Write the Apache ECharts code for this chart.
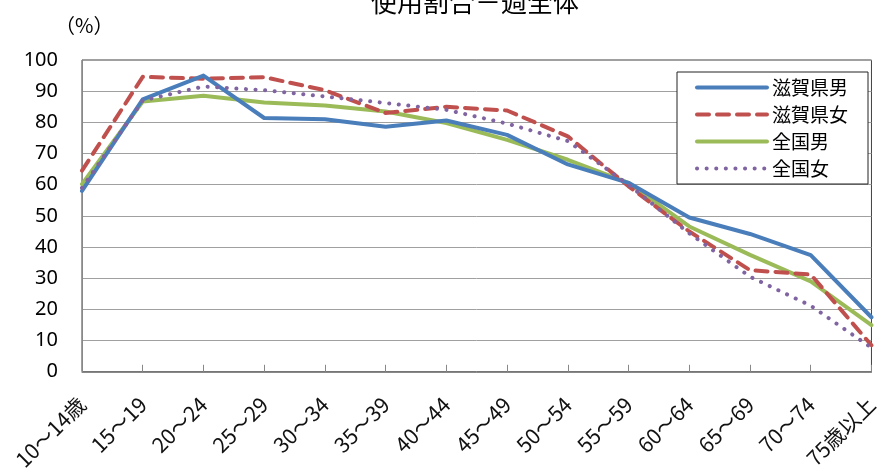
<!DOCTYPE html>
<html>
<head>
<meta charset="utf-8">
<script src="https://cdn.jsdelivr.net/npm/echarts@6/dist/echarts.min.js"></script>
<style>
html,body{margin:0;padding:0;background:#fff;}
#main{width:881px;height:473px;}
</style>
</head>
<body>
<div id="main"></div>
<script>
const categories = ['10～14歳','15～19','20～24','25～29','30～34','35～39','40～44','45～49','50～54','55～59','60～64','65～69','70～74','75歳以上'];
const shigaMale   = [58, 87.4, 95, 81.4, 81, 78.6, 80.6, 76, 66.5, 60.6, 49.5, 44.2, 37.4, 17.5];
const shigaFemale = [64.5, 94.6, 94, 94.5, 90.3, 83, 85, 83.8, 75.5, 59.5, 45, 32.6, 31.2, 8.5];
const nationMale  = [60.2, 86.7, 88.5, 86.4, 85.4, 83.5, 79.8, 74.4, 68, 60.6, 46.6, 37.5, 29, 15];
const nationFemale= [59, 87, 91.5, 90.3, 88.3, 86.2, 84, 79.6, 74, 60, 44.4, 30.5, 21.2, 7.7];
const seriesNames = ['滋賀県男','滋賀県女','全国男','全国女'];
const yTicks = {min: 0, max: 100, interval: 10};

const FONT = '"Noto Sans CJK JP", "Noto Sans", sans-serif';
const NUMFONT = '"Noto Sans", "Noto Sans CJK JP", sans-serif';
const COLORS = ['#4a7ebb', '#c0504d', '#9bbb59', '#8064a2'];
const DASHES = ['solid', [12, 8], 'solid', [0.1, 9.5]];
const SERIES_DATA = [shigaMale, shigaFemale, nationMale, nationFemale];

const chart = echarts.init(document.getElementById('main'), null, {renderer: 'canvas'});
chart.setOption({
  animation: false,
  backgroundColor: '#ffffff',
  textStyle: {fontFamily: FONT},
  title: [{
    text: '使用割合－週全体',
    left: 366,
    top: -16,
    textStyle: {fontSize: 26, fontWeight: 'normal', color: '#000', fontFamily: FONT}
  }, {
    text: '（%）',
    left: 50,
    top: 10,
    textStyle: {fontSize: 20, fontWeight: 'normal', color: '#000', fontFamily: FONT}
  }],
  legend: {
    orient: 'vertical',
    left: 677,
    top: 72,
    padding: [6, 20, 6, 18],
    itemWidth: 70,
    itemHeight: 14,
    itemGap: 8,
    borderColor: '#222',
    borderWidth: 1,
    backgroundColor: '#fff',
    textStyle: {fontSize: 19, color: '#000', fontFamily: FONT},
    itemStyle: {opacity: 0},
    data: seriesNames.map((n, i) => ({
      name: n,
      itemStyle: {opacity: 0},
      lineStyle: {color: COLORS[i], width: 4, type: DASHES[i], cap: 'round', opacity: 1}
    }))
  },
  grid: {
    left: 82, right: 4, top: 60, bottom: 100,
    show: true, borderColor: '#404040', borderWidth: 1, containLabel: false
  },
  xAxis: {
    type: 'category',
    data: categories,
    boundaryGap: false,
    axisLine: {lineStyle: {color: '#888', width: 1}},
    axisTick: {inside: true, length: 7, lineStyle: {color: '#888'}},
    axisLabel: {rotate: 45, fontSize: 21, color: '#111', margin: 29, interval: 0, fontFamily: FONT},
    splitLine: {show: false}
  },
  yAxis: {
    type: 'value',
    min: yTicks.min, max: yTicks.max, interval: yTicks.interval,
    axisLine: {show: true, lineStyle: {color: '#888'}},
    axisTick: {show: false},
    axisLabel: {fontSize: 20, color: '#000', margin: 24, fontFamily: NUMFONT},
    splitLine: {lineStyle: {color: '#a0a0a0', width: 1}}
  },
  series: seriesNames.map((n, i) => ({
    name: n, type: 'line', data: SERIES_DATA[i], symbol: 'none',
    lineStyle: {color: COLORS[i], width: 4, type: DASHES[i], cap: 'round', join: 'round'},
    itemStyle: {color: COLORS[i]},
    z: [5, 4, 3, 6][i]
  }))
});
</script>
</body>
</html>
